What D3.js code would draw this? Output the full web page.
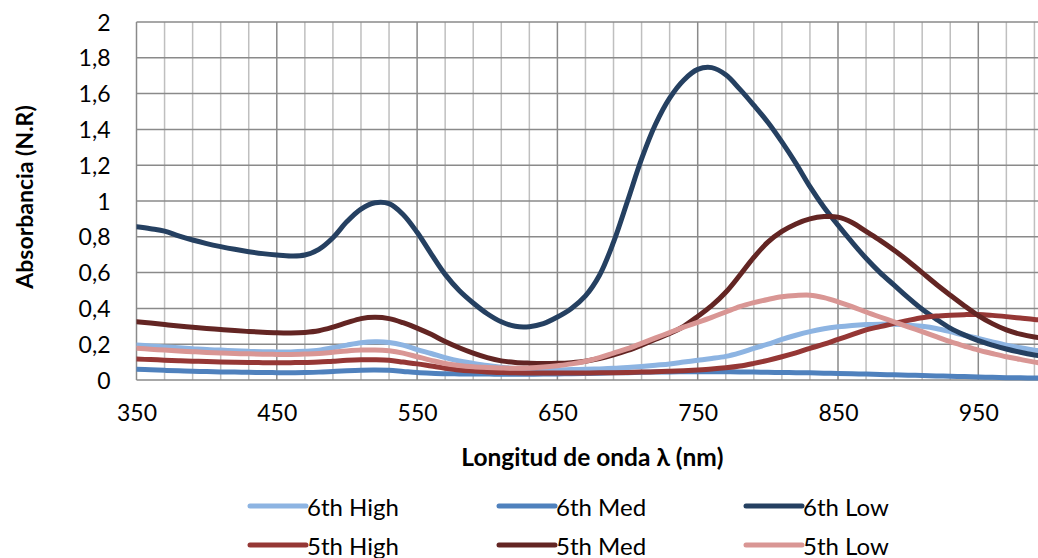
<!DOCTYPE html>
<html>
<head>
<meta charset="utf-8">
<script src="https://cdn.jsdelivr.net/npm/d3@7"></script>
<style>
  html, body { margin: 0; padding: 0; background: #fff; }
  svg { display: block; }
  text { font-family: Lato, "Open Sans", sans-serif; fill: #000; }
</style>
</head>
<body>
<svg id="chart" width="1038" height="558"></svg>
<script>
// Wavelength samples (nm), 10 nm apart
const wavelengths = d3.range(350, 1001, 10);

// Absorbance (N.R) for each sample
const sixthHigh = [
  0.196, 0.190, 0.185, 0.180, 0.175, 0.170, 0.167, 0.163, 0.160, 0.158,
  0.157, 0.157, 0.160, 0.166, 0.180, 0.195, 0.208, 0.213, 0.210, 0.195,
  0.170, 0.148, 0.125, 0.106, 0.093, 0.081, 0.071, 0.064, 0.060, 0.057,
  0.056, 0.058, 0.060, 0.062, 0.065, 0.070, 0.076, 0.083, 0.090, 0.100,
  0.110, 0.120, 0.132, 0.152, 0.177, 0.200, 0.227, 0.250, 0.270, 0.286,
  0.297, 0.305, 0.310, 0.312, 0.312, 0.308, 0.300, 0.288, 0.270, 0.250,
  0.232, 0.213, 0.195, 0.180, 0.167, 0.158
];
const sixthMed = [
  0.060, 0.057, 0.054, 0.051, 0.049, 0.047, 0.045, 0.044, 0.043, 0.042,
  0.041, 0.041, 0.042, 0.044, 0.048, 0.052, 0.055, 0.056, 0.054, 0.048,
  0.042, 0.038, 0.035, 0.034, 0.033, 0.033, 0.032, 0.032, 0.032, 0.033,
  0.034, 0.035, 0.036, 0.038, 0.040, 0.041, 0.043, 0.044, 0.045, 0.046,
  0.046, 0.046, 0.046, 0.045, 0.044, 0.043, 0.042, 0.041, 0.040, 0.038,
  0.037, 0.035, 0.033, 0.031, 0.029, 0.027, 0.025, 0.023, 0.021, 0.019,
  0.017, 0.015, 0.013, 0.012, 0.011, 0.010
];
const sixthLow = [
  0.856, 0.845, 0.832, 0.805, 0.782, 0.762, 0.745, 0.730, 0.717, 0.706,
  0.698, 0.693, 0.698, 0.730, 0.795, 0.885, 0.955, 0.990, 0.985, 0.925,
  0.825, 0.705, 0.590, 0.500, 0.430, 0.370, 0.325, 0.300, 0.298, 0.315,
  0.352, 0.400, 0.470, 0.585, 0.770, 1.000, 1.235, 1.430, 1.575, 1.675,
  1.735, 1.745, 1.705, 1.625, 1.535, 1.440, 1.330, 1.210, 1.080, 0.965,
  0.865, 0.770, 0.680, 0.600, 0.530, 0.460, 0.395, 0.340, 0.290, 0.252,
  0.220, 0.195, 0.173, 0.155, 0.140, 0.128
];
const fifthHigh = [
  0.117, 0.114, 0.111, 0.108, 0.105, 0.103, 0.101, 0.099, 0.098, 0.097,
  0.097, 0.097, 0.098, 0.100, 0.105, 0.110, 0.113, 0.113, 0.110, 0.100,
  0.090, 0.078, 0.066, 0.056, 0.050, 0.045, 0.042, 0.040, 0.039, 0.039,
  0.039, 0.039, 0.039, 0.040, 0.041, 0.042, 0.044, 0.046, 0.049, 0.052,
  0.056, 0.061, 0.068, 0.078, 0.093, 0.110, 0.130, 0.152, 0.177, 0.200,
  0.227, 0.253, 0.280, 0.298, 0.316, 0.333, 0.348, 0.357, 0.362, 0.365,
  0.366, 0.361, 0.354, 0.346, 0.338, 0.332
];
const fifthMed = [
  0.326, 0.318, 0.310, 0.302, 0.295, 0.288, 0.282, 0.276, 0.271, 0.267,
  0.264, 0.263, 0.266, 0.275, 0.295, 0.320, 0.343, 0.350, 0.343, 0.320,
  0.290, 0.255, 0.215, 0.180, 0.150, 0.125, 0.107, 0.098, 0.094, 0.092,
  0.093, 0.097, 0.105, 0.120, 0.140, 0.165, 0.195, 0.228, 0.260, 0.300,
  0.355, 0.415, 0.490, 0.585, 0.685, 0.770, 0.830, 0.872, 0.900, 0.913,
  0.910, 0.880, 0.830, 0.780, 0.725, 0.665, 0.600, 0.535, 0.474, 0.415,
  0.360, 0.315, 0.280, 0.256, 0.240, 0.230
];
const fifthLow = [
  0.177, 0.172, 0.167, 0.162, 0.158, 0.154, 0.151, 0.148, 0.146, 0.144,
  0.143, 0.143, 0.145, 0.148, 0.155, 0.162, 0.167, 0.168, 0.163, 0.150,
  0.130, 0.110, 0.092, 0.081, 0.074, 0.070, 0.067, 0.065, 0.067, 0.072,
  0.080, 0.090, 0.105, 0.125, 0.150, 0.175, 0.205, 0.235, 0.265, 0.295,
  0.322, 0.350, 0.380, 0.410, 0.432, 0.450, 0.465, 0.472, 0.474, 0.460,
  0.437, 0.410, 0.380, 0.352, 0.325, 0.297, 0.270, 0.242, 0.214, 0.190,
  0.167, 0.148, 0.130, 0.115, 0.100, 0.090
];

const seriesNames = ["6th High", "6th Med", "6th Low", "5th High", "5th Med", "5th Low"];
const seriesValues = [sixthHigh, sixthMed, sixthLow, fifthHigh, fifthMed, fifthLow];
const seriesColors = ["#8DB4E2", "#4F81BD", "#254061", "#953735", "#632523", "#D99694"];

const xTicks = [350, 450, 550, 650, 750, 850, 950];
const yTicks = [0, 0.2, 0.4, 0.6, 0.8, 1, 1.2, 1.4, 1.6, 1.8, 2];

const svg = d3.select("#chart");
const W = 1038;
const plot = { left: 136.5, top: 22, bottom: 380 };

const x = d3.scaleLinear().domain([350, 1000]).range([plot.left, plot.left + 650 * 1.403]);
const y = d3.scaleLinear().domain([0, 2]).range([plot.bottom, plot.top]);

const fmt = v => d3.format("")(v).replace(".", ",");

// clip to the visible plot region
svg.append("defs").append("clipPath").attr("id", "plotClip")
  .append("rect")
  .attr("x", plot.left).attr("y", plot.top - 5)
  .attr("width", W - plot.left).attr("height", plot.bottom - plot.top + 10);

// minor vertical grid every 20 nm
const grid = svg.append("g");
grid.selectAll("line.minor")
  .data(d3.range(370, 1000, 20).filter(v => (v - 350) % 100 !== 0))
  .join("line")
  .attr("x1", d => x(d)).attr("x2", d => x(d))
  .attr("y1", plot.top).attr("y2", plot.bottom)
  .attr("stroke", "#BFBFBF").attr("stroke-width", 1.5);

// major vertical grid every 100 nm
grid.selectAll("line.majorx")
  .data(xTicks)
  .join("line")
  .attr("x1", d => x(d)).attr("x2", d => x(d))
  .attr("y1", plot.top).attr("y2", plot.bottom)
  .attr("stroke", "#8A8A8A").attr("stroke-width", 1.5);

// horizontal grid
grid.selectAll("line.majory")
  .data(yTicks)
  .join("line")
  .attr("x1", plot.left).attr("x2", W)
  .attr("y1", d => y(d)).attr("y2", d => y(d))
  .attr("stroke", "#8A8A8A").attr("stroke-width", 1.5);

// y axis labels
const yAxis = d3.axisLeft(y).tickValues(yTicks).tickFormat(fmt).tickSize(0).tickPadding(26);
const gy = svg.append("g").attr("transform", `translate(${plot.left},0)`).call(yAxis);
gy.select(".domain").remove();
gy.selectAll("text").style("font-size", "23px").style("font-family", "Lato, sans-serif").attr("fill", "#000")
  .attr("dy", "0.35em");

// x axis labels
const xAxis = d3.axisBottom(x).tickValues(xTicks).tickFormat(d3.format("d")).tickSize(0).tickPadding(25);
const gx = svg.append("g").attr("transform", `translate(0,${plot.bottom})`).call(xAxis);
gx.select(".domain").remove();
gx.selectAll("text").style("font-size", "23px").style("font-family", "Lato, sans-serif").attr("fill", "#000");

// series lines
const line = d3.line()
  .x((d, i) => x(wavelengths[i]))
  .y(d => y(d))
  .curve(d3.curveCatmullRom.alpha(0.5));

svg.append("g").attr("clip-path", "url(#plotClip)")
  .selectAll("path")
  .data(seriesValues)
  .join("path")
  .attr("d", d => line(d))
  .attr("fill", "none")
  .attr("stroke", (d, i) => seriesColors[i])
  .attr("stroke-width", 5)
  .attr("stroke-linejoin", "round")
  .attr("stroke-linecap", "round");

// axis titles
svg.append("text")
  .attr("x", (plot.left + x(1000)) / 2).attr("y", 456)
  .attr("text-anchor", "middle").attr("dominant-baseline", "central")
  .style("font-size", "24.5px").style("font-weight", "bold")
  .text("Longitud de onda λ (nm)");

svg.append("text")
  .attr("transform", "translate(24,197) rotate(-90)")
  .attr("text-anchor", "middle").attr("dominant-baseline", "central")
  .style("font-size", "23px").style("font-weight", "bold")
  .text("Absorbancia (N.R)");

// legend: two rows of three
const legendCols = [250, 499, 746];
const legendRows = [506, 545];
const legend = svg.append("g");
seriesNames.forEach((name, i) => {
  const lx = legendCols[i % 3];
  const ly = legendRows[Math.floor(i / 3)];
  legend.append("line")
    .attr("x1", lx).attr("x2", lx + 56)
    .attr("y1", ly).attr("y2", ly)
    .attr("stroke", seriesColors[i]).attr("stroke-width", 5)
    .attr("stroke-linecap", "round");
  legend.append("text")
    .attr("x", lx + 57).attr("y", ly)
    .attr("dominant-baseline", "central")
    .style("font-size", "24px")
    .text(name);
});
</script>
</body>
</html>
